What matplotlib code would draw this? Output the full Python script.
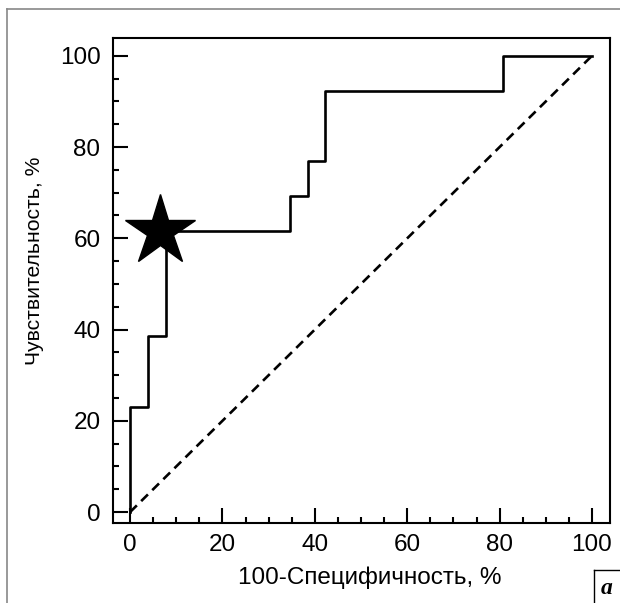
import matplotlib
matplotlib.use("Agg")
import matplotlib.pyplot as plt
from matplotlib.lines import Line2D
from matplotlib.ticker import MultipleLocator

plt.rcParams["font.family"] = ["Liberation Sans", "DejaVu Sans"]

# ROC curve corners (100-specificity, sensitivity), %
fpr = [0, 0, 3.8, 7.7, 34.6, 38.5, 42.3, 80.8, 100]
tpr = [0, 23.1, 38.5, 61.5, 69.2, 76.9, 92.3, 100, 100]
# optimal cut-off point
best_x = 6.5
best_y = 61.6
diag = [0, 100]

fig = plt.figure(figsize=(6.2, 6.03), dpi=100)
ax = fig.add_axes([113 / 620, 1 - 523 / 603, 497 / 620, 485 / 603])

ax.plot(fpr, tpr, drawstyle="steps-post", color="black", lw=1.9)
ax.plot(diag, diag, color="black", lw=1.9, linestyle=(0, (3.6, 2.3)))
ax.plot(best_x, best_y, marker="*", color="black", markersize=53, zorder=5)

ax.set_xlim(-3.7, 103.9)
ax.set_ylim(-2.4, 103.9)
ax.xaxis.set_major_locator(MultipleLocator(20))
ax.xaxis.set_minor_locator(MultipleLocator(5))
ax.yaxis.set_major_locator(MultipleLocator(20))
ax.yaxis.set_minor_locator(MultipleLocator(5))
ax.tick_params(which="both", direction="in", width=1.5, labelsize=17.5)
ax.tick_params(which="major", length=11)
ax.tick_params(which="minor", length=4.5)
ax.tick_params(axis="x", which="major", pad=8)
ax.tick_params(axis="y", which="major", pad=9)
for s in ax.spines.values():
    s.set_linewidth(1.5)

ax.set_xlabel("100-Специфичность, %", fontsize=17.5)
ax.xaxis.set_label_coords(0.516, -0.0895)
ax.set_ylabel("Чувствительность, %", fontsize=15.2)
ax.yaxis.set_label_coords(-0.139, 0.54)

# outer frame (gray), clipped by image edge
fig.add_artist(Line2D([7 / 620, 7 / 620], [0, 1 - 9 / 603],
                      transform=fig.transFigure, color="#888888", lw=1.2))
fig.add_artist(Line2D([7 / 620, 1], [1 - 9 / 603, 1 - 9 / 603],
                      transform=fig.transFigure, color="#888888", lw=1.2))

# panel letter box
fig.add_artist(Line2D([594 / 620, 594 / 620], [0, 1 - 570 / 603],
                      transform=fig.transFigure, color="black", lw=1.0))
fig.add_artist(Line2D([594 / 620, 1], [1 - 570 / 603, 1 - 570 / 603],
                      transform=fig.transFigure, color="black", lw=1.0))
fig.text(607 / 620, 1 - 588 / 603, "a", family=["Liberation Serif", "DejaVu Serif"],
         fontsize=17, fontweight="bold", fontstyle="italic", ha="center", va="center")

fig.savefig("out.png", dpi=100)
